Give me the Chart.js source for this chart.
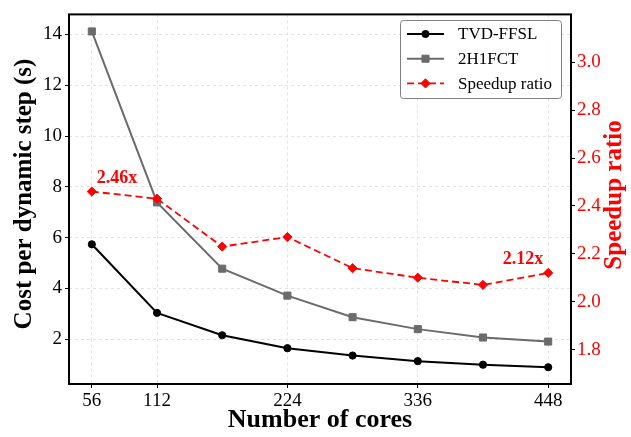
<!DOCTYPE html>
<html>
<head>
<meta charset="utf-8">
<script src="https://cdn.jsdelivr.net/npm/chart.js@4.4.1/dist/chart.umd.min.js"></script>
<style>
  html, body { margin: 0; padding: 0; background: #fff; }
  canvas { display: block; }
</style>
</head>
<body>
<canvas id="grafico" width="631" height="437"></canvas>
<script>
// dados
const cores = [56, 112, 168, 224, 280, 336, 392, 448];
const tvdFfsl = [5.74, 3.04, 2.16, 1.65, 1.36, 1.14, 1.00, 0.90];
const h1fct = [14.12, 7.39, 4.78, 3.72, 2.87, 2.40, 2.07, 1.91];
const speedup = [2.46, 2.43, 2.23, 2.27, 2.14, 2.10, 2.07, 2.12];

const xTicks = [56, 112, 224, 336, 448];
const yTicks = [2, 4, 6, 8, 10, 12, 14];
const y2Ticks = [1.8, 2.0, 2.2, 2.4, 2.6, 2.8, 3.0];

const serif = "'Liberation Serif', 'Times New Roman', serif";

function pontos(ys) {
  return cores.map((c, i) => ({ x: c, y: ys[i] }));
}

function fixaTicks(valores) {
  return scale => { scale.ticks = valores.map(v => ({ value: v })); };
}

// moldura preta nos quatro lados
const moldura = {
  id: 'moldura',
  afterDatasetsDraw(chart) {
    const { ctx, chartArea: a } = chart;
    ctx.save();
    ctx.strokeStyle = '#000';
    ctx.lineWidth = 2;
    ctx.strokeRect(a.left, a.top, a.right - a.left, a.bottom - a.top);
    ctx.restore();
  }
};

// rótulos 2.46x e 2.12x
const anotacoes = {
  id: 'anotacoes',
  afterDatasetsDraw(chart) {
    const { ctx, scales } = chart;
    const ultimo = cores.length - 1;
    ctx.save();
    ctx.font = `bold 18px ${serif}`;
    ctx.fillStyle = '#ff0000';
    ctx.textBaseline = 'alphabetic';
    [[0, 'left', 5], [ultimo, 'right', -5]].forEach(([i, alinha, dx]) => {
      const px = scales.x.getPixelForValue(cores[i]);
      const py = scales.y2.getPixelForValue(speedup[i]);
      ctx.textAlign = alinha;
      ctx.fillText(speedup[i].toFixed(2) + 'x', px + dx, py - 9);
    });
    ctx.restore();
  }
};

// títulos verticais, lidos de baixo para cima
function tituloVertical(ctx, texto, x, y, cor) {
  ctx.save();
  ctx.translate(x, y);
  ctx.rotate(-Math.PI / 2);
  ctx.font = `bold 25px ${serif}`;
  ctx.fillStyle = cor;
  ctx.textAlign = 'center';
  ctx.textBaseline = 'middle';
  ctx.fillText(texto, 0, 0);
  ctx.restore();
}

const titulosY = {
  id: 'titulosY',
  afterDraw(chart) {
    const { ctx } = chart;
    tituloVertical(ctx, 'Cost per dynamic step (s)', 25, 194, '#000');
    tituloVertical(ctx, 'Speedup ratio', 615, 195, '#ff0000');
  }
};

// legenda no canto superior direito
const legenda = {
  id: 'legenda',
  afterDraw(chart) {
    const { ctx } = chart;
    const caixa = { x: 400.5, y: 20.5, w: 161, h: 78 };
    ctx.save();
    ctx.beginPath();
    ctx.roundRect(caixa.x, caixa.y, caixa.w, caixa.h, 3);
    ctx.fillStyle = 'rgba(255,255,255,0.85)';
    ctx.fill();
    ctx.strokeStyle = '#808080';
    ctx.lineWidth = 1;
    ctx.stroke();

    const ordem = [1, 2, 0];
    ordem.forEach((idx, linha) => {
      const ds = chart.data.datasets[idx];
      const y = 34 + linha * 24.7;
      ctx.strokeStyle = ds.borderColor;
      ctx.lineWidth = ds.borderWidth;
      ctx.setLineDash(ds.borderDash || []);
      ctx.beginPath();
      ctx.moveTo(407, y);
      ctx.lineTo(444, y);
      ctx.stroke();
      ctx.setLineDash([]);
      ctx.fillStyle = ds.pointBackgroundColor;
      ctx.strokeStyle = ds.pointBorderColor;
      ctx.lineWidth = ds.pointBorderWidth;
      Chart.helpers.drawPoint(ctx, {
        pointStyle: ds.pointStyle,
        radius: ds.pointRadius,
        rotation: 0,
        borderWidth: ds.pointBorderWidth
      }, 425.5, y);
      ctx.fillStyle = '#000';
      ctx.font = `17px ${serif}`;
      ctx.textAlign = 'left';
      ctx.textBaseline = 'middle';
      ctx.fillText(ds.label, 458, y + 1);
    });
    ctx.restore();
  }
};

const canva = document.getElementById('grafico');

new Chart(canva, {
  type: 'line',
  data: {
    datasets: [
      {
        label: 'Speedup ratio',
        data: pontos(speedup),
        yAxisID: 'y2',
        order: 0,
        borderColor: '#ff0000',
        borderWidth: 1.8,
        borderDash: [7, 4],
        pointStyle: 'rectRot',
        pointRadius: 4.6,
        pointBackgroundColor: '#ff0000',
        pointBorderColor: '#ff0000',
        pointBorderWidth: 1
      },
      {
        label: 'TVD-FFSL',
        data: pontos(tvdFfsl),
        yAxisID: 'y',
        order: 1,
        borderColor: '#000000',
        borderWidth: 2,
        pointStyle: 'circle',
        pointRadius: 3.6,
        pointBackgroundColor: '#000000',
        pointBorderColor: '#000000',
        pointBorderWidth: 1
      },
      {
        label: '2H1FCT',
        data: pontos(h1fct),
        yAxisID: 'y',
        order: 2,
        borderColor: '#6b6b6b',
        borderWidth: 2,
        pointStyle: 'rect',
        pointRadius: 5,
        pointBackgroundColor: '#6b6b6b',
        pointBorderColor: '#6b6b6b',
        pointBorderWidth: 1
      }
    ]
  },
  options: {
    responsive: false,
    animation: false,
    devicePixelRatio: 1,
    layout: { padding: { top: 11, left: 0, right: 0, bottom: 0 } },
    plugins: {
      legend: { display: false },
      tooltip: { enabled: false }
    },
    scales: {
      x: {
        type: 'linear',
        min: 36.4,
        max: 467.6,
        afterBuildTicks: fixaTicks(xTicks),
        afterFit: s => { s.height = 53; },
        grid: { color: '#dcdcdc', lineWidth: 0.8, tickColor: '#000', tickLength: 4, tickWidth: 1 },
        border: { display: false, dash: [3, 3] },
        ticks: { autoSkip: false, maxRotation: 0, color: '#000', padding: 2, font: { family: serif, size: 19 } },
        title: {
          display: true,
          text: 'Number of cores',
          color: '#000',
          font: { family: serif, size: 26, weight: 'bold' },
          padding: { top: 0, bottom: 1 }
        }
      },
      y: {
        type: 'linear',
        position: 'left',
        min: 0.24,
        max: 14.79,
        afterBuildTicks: fixaTicks(yTicks),
        afterFit: s => { s.width = 69; },
        grid: { color: '#dcdcdc', lineWidth: 0.8, tickColor: '#000', tickLength: 4, tickWidth: 1 },
        border: { display: false, dash: [3, 3] },
        ticks: { color: '#000', padding: 3, font: { family: serif, size: 19 } }
      },
      y2: {
        type: 'linear',
        position: 'right',
        min: 1.656,
        max: 3.2,
        afterBuildTicks: fixaTicks(y2Ticks),
        afterFit: s => { s.width = 60; },
        grid: { drawOnChartArea: false, tickColor: '#000', tickLength: 4, tickWidth: 1 },
        border: { display: false },
        ticks: { color: '#ff0000', padding: 2, font: { family: serif, size: 19 }, callback: v => v.toFixed(1) }
      }
    }
  },
  plugins: [moldura, anotacoes, titulosY, legenda]
});
</script>
</body>
</html>
